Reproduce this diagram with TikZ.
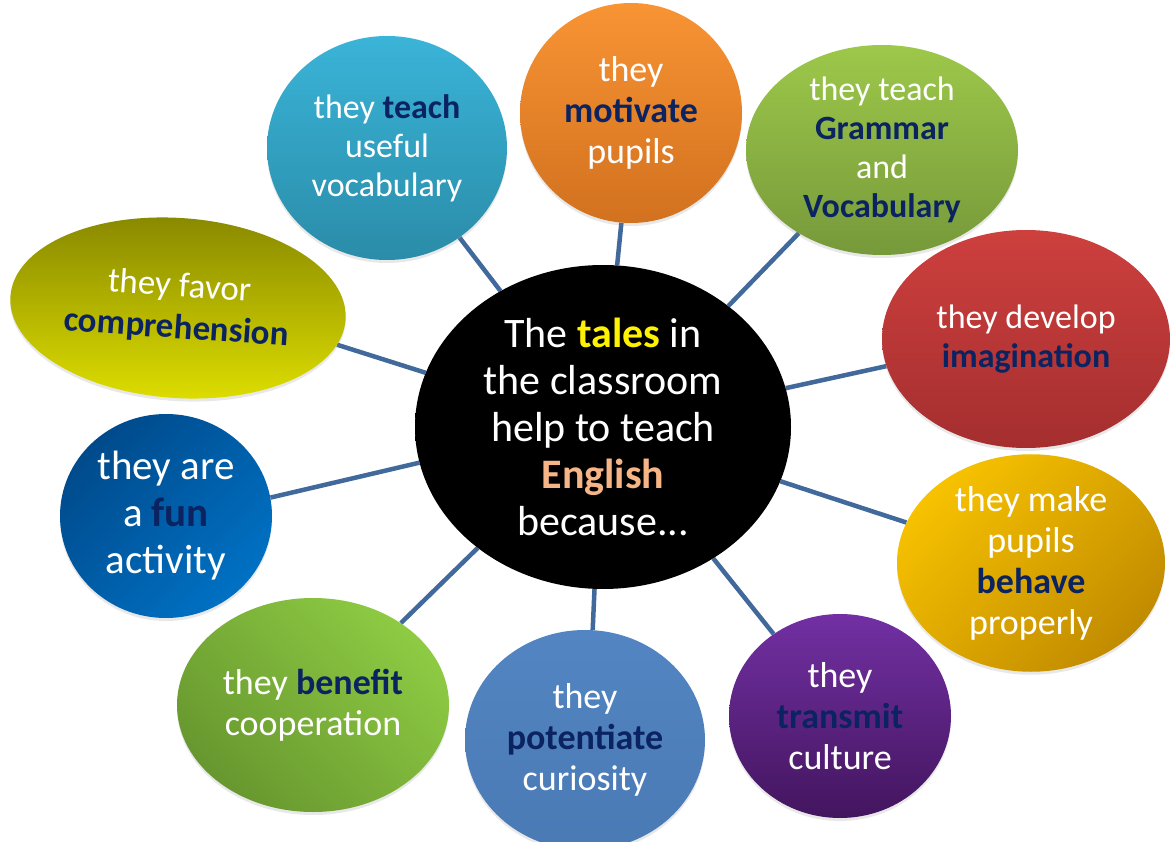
\documentclass[tikz,border=0pt]{standalone}
\usepackage{fontspec}
\setmainfont{Carlito}
\usetikzlibrary{shapes.geometric,backgrounds,shadows}
\definecolor{navy}{HTML}{0B2461}
\definecolor{linkc}{HTML}{41699B}
\definecolor{peach}{HTML}{F6B587}
\definecolor{tealA}{HTML}{3AB4D8}\definecolor{tealB}{HTML}{2A8CA8}
\definecolor{oranA}{HTML}{F89434}\definecolor{oranB}{HTML}{D2711F}
\definecolor{grnA}{HTML}{9DC84A}\definecolor{grnB}{HTML}{76993A}
\definecolor{redA}{HTML}{CD403E}\definecolor{redB}{HTML}{A52E2F}
\definecolor{yelA}{HTML}{F7C200}\definecolor{yelB}{HTML}{C18B00}
\definecolor{purA}{HTML}{7230A3}\definecolor{purB}{HTML}{43155E}
\definecolor{stlA}{HTML}{5285C2}\definecolor{stlB}{HTML}{4A7AB4}
\definecolor{lgrA}{HTML}{8ECB43}\definecolor{lgrB}{HTML}{67972F}
\definecolor{bluA}{HTML}{004A8B}\definecolor{bluB}{HTML}{0071C4}
\definecolor{oliA}{HTML}{878700}\definecolor{oliB}{HTML}{DCDC00}
\pgfdeclareradialshading{rimshade}{\pgfpoint{0bp}{0bp}}{color(0bp)=(black); color(44bp)=(black); color(49bp)=(black!70); color(50bp)=(black!60)}
\newcommand\keyw[1]{{\bfseries\color{navy}#1}}
\begin{document}
\begin{tikzpicture}[x=1pt,y=-1pt,
  bubble/.style={ellipse, inner sep=0pt, align=center, text=white,
    drop shadow={opacity=0.18, shadow xshift=0pt, shadow yshift=-3pt}},
  fsmall/.style={font=\fontsize{34}{39}\selectfont},
  fmed/.style={font=\fontsize{36}{41}\selectfont},
  fbig/.style={font=\fontsize{41}{47}\selectfont},
  link/.style={draw=linkc, line width=4.5pt}]
\clip (0,0) rectangle (1171,842);
% centre
\node[ellipse, inner sep=0pt, align=center, text=white, shade, shading=rimshade,
  minimum width=376pt, minimum height=324pt, font=\fontsize{42}{47}\selectfont]
  (c) at (603,427) {The {\bfseries\color{yellow}tales} in\\the classroom\\help to teach\\{\bfseries\color{peach}English}\\because...};
% satellites
\node[bubble, fsmall, minimum width=240pt, minimum height=224pt, top color=tealA, bottom color=tealB]
  (n1) at (387,148) {they \keyw{teach}\\useful\\vocabulary};
\node[bubble, fmed, minimum width=222pt, minimum height=220pt, top color=oranA, bottom color=oranB]
  (n2) at (631,113) {they\\\keyw{motivate}\\pupils};
\node[bubble, fsmall, minimum width=272pt, minimum height=210pt, top color=grnA, bottom color=grnB]
  (n3) at (882,150) {they teach\\\keyw{Grammar}\\and\\\keyw{Vocabulary}};
\node[bubble, fsmall, minimum width=288pt, minimum height=218pt, top color=redA, bottom color=redB]
  (n4) at (1026,339) {they develop\\\keyw{imagination}};
\node[bubble, fmed, minimum width=268pt, minimum height=212pt, top color=yelA, bottom color=yelB, shading angle=45]
  (n5) at (1031,563) {they make\\pupils\\\keyw{behave}\\properly};
\node[bubble, fmed, minimum width=222pt, minimum height=204pt, top color=purA, bottom color=purB]
  (n6) at (840,716) {they\\\keyw{transmit}\\culture};
\node[bubble, fmed, minimum width=240pt, minimum height=220pt, top color=stlA, bottom color=stlB]
  (n7) at (585,740) {they\\\keyw{potentiate}\\curiosity};
\node[bubble, fmed, minimum width=272pt, minimum height=214pt, top color=lgrA, bottom color=lgrB, shading angle=-45]
  (n8) at (313,705) {they \keyw{benefit}\\cooperation};
\node[bubble, fbig, minimum width=212pt, minimum height=204pt, top color=bluA, bottom color=bluB, shading angle=45]
  (n9) at (166,516) {they are\\a \keyw{fun}\\activity};
\node[bubble, font=\fontsize{35}{42}\selectfont, minimum width=336pt, minimum height=180pt, top color=oliA, bottom color=oliB, rotate=-4]
  (n10) at (178,308) {they favor\\\keyw{comprehension}};
% connectors
\begin{scope}[on background layer]
\fill[white] (0,0) rectangle (1171,842);
\draw[link] (c.127.9) -- (n1.-51.6);
\draw[link] (c.85.1) -- (n2.265.3);
\draw[link] (c.44.5) -- (n3.225.3);
\draw[link] (c.12) -- (n4.191.4);
\draw[link] (c.-17.6) -- (n5.162.3);
\draw[link] (c.-50.7) -- (n6.129.5);
\draw[link] (c.-93.2) -- (n7.86.9);
\draw[link] (c.224) -- (n8.43.1);
\draw[link] (c.191.7) -- (n9.10.9);
\draw[link] (c.163.9) -- (n10.-9.5);
\end{scope}
\end{tikzpicture}
\end{document}
